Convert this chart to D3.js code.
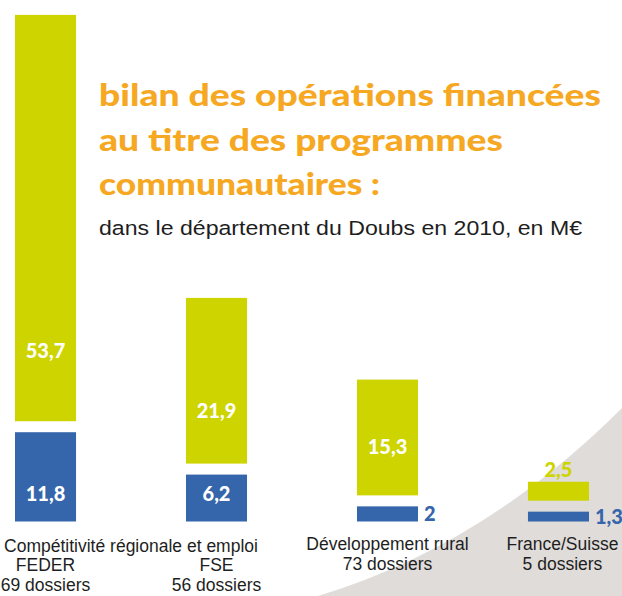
<!DOCTYPE html>
<html>
<head>
<meta charset="utf-8">
<script src="https://cdn.jsdelivr.net/npm/d3@7"></script>
<style>
  body { margin: 0; background: #fff; }
  svg { display: block; }
</style>
</head>
<body>
<script>
// values (M€)
var categories = ["FEDER", "FSE", "Développement rural", "France/Suisse"];
var dossiers = [69, 56, 73, 5];
var blueValues = [11.8, 6.2, 2, 1.3];
var greenValues = [53.7, 21.9, 15.3, 2.5];
var groupHeading = "Compétitivité régionale et emploi";   // covers FEDER + FSE

var titleLines = ["bilan des opérations financées", "au titre des programmes", "communautaires :"];
var subtitle = "dans le département du Doubs en 2010, en M€";

var W = 622, H = 596;
var BASE = 521.5;   // bottom of the bars
var GAP = 11;       // white gap between blue and green blocks

var GREEN = "#cdd400", BLUE = "#3565ab", ORANGE = "#f6a823", GREY = "#e0dcda";

var svg = d3.select("body").append("svg")
    .attr("width", W)
    .attr("height", H);

// grey swoosh, bottom right
svg.append("path")
    .attr("d", "M318,596 Q484,546 622,408 L622,596 Z")
    .attr("fill", GREY);

var x = d3.scaleBand()
    .domain(categories)
    .range([15, 589])
    .paddingInner(0.643)
    .paddingOuter(0);

var h = d3.scaleLinear().domain([0, 60]).range([0, 454]);

var rows = categories.map(function (c, i) {
    return { cat: c, blue: blueValues[i], green: greenValues[i], n: dossiers[i] };
});

function fmt(v) { return String(v).replace(".", ","); }

var g = svg.selectAll("g.grp").data(rows).enter().append("g").attr("class", "grp");

g.append("rect")
    .attr("x", function (d) { return x(d.cat); })
    .attr("width", x.bandwidth())
    .attr("y", function (d) { return BASE - h(d.blue); })
    .attr("height", function (d) { return h(d.blue); })
    .attr("fill", BLUE);

g.append("rect")
    .attr("x", function (d) { return x(d.cat); })
    .attr("width", x.bandwidth())
    .attr("y", function (d) { return BASE - h(d.blue) - GAP - h(d.green); })
    .attr("height", function (d) { return h(d.green); })
    .attr("fill", GREEN);

var valFont = "Lato, 'DejaVu Sans', sans-serif";

// blue value labels: inside if tall enough, else to the right
g.append("text")
    .attr("font-family", valFont)
    .attr("font-weight", 900)
    .attr("font-size", 20)
    .attr("dy", "0.36em")
    .each(function (d) {
        var t = d3.select(this), hb = h(d.blue);
        if (hb > 30) {
            t.attr("x", x(d.cat) + x.bandwidth() / 2).attr("y", BASE - 28)
             .attr("text-anchor", "middle").attr("fill", "#fff");
        } else {
            t.attr("x", x(d.cat) + x.bandwidth() + 6).attr("y", BASE - hb / 2)
             .attr("text-anchor", "start").attr("fill", BLUE);
        }
    })
    .text(function (d) { return fmt(d.blue); });

// green value labels: inside near the bottom, or above a short block
g.append("text")
    .attr("font-family", valFont)
    .attr("font-weight", 900)
    .attr("font-size", 20)
    .attr("text-anchor", "middle")
    .attr("dy", "0.36em")
    .attr("x", function (d) { return x(d.cat) + x.bandwidth() / 2; })
    .each(function (d) {
        var t = d3.select(this), hg = h(d.green);
        var bottom = BASE - h(d.blue) - GAP;
        if (hg > 30) {
            t.attr("y", bottom - (40 + 0.075 * hg)).attr("fill", "#fff");
        } else {
            t.attr("y", bottom - hg - 12).attr("fill", GREEN);
        }
    })
    .text(function (d) { return fmt(d.green); });

// category labels under the bars
var labFont = "'Liberation Sans', Arial, sans-serif";
var lab = svg.append("g")
    .attr("font-family", labFont)
    .attr("font-size", 17.5)
    .attr("fill", "#1e1e1e")
    .attr("text-anchor", "middle");

var grouped = categories.slice(0, 2);
lab.append("text")
    .attr("x", (x(grouped[0]) + x(grouped[1]) + x.bandwidth()) / 2)
    .attr("y", 552)
    .text(groupHeading);

rows.forEach(function (d, i) {
    var cx = x(d.cat) + x.bandwidth() / 2 + (i == 3 ? 4 : 0);
    var y0 = i < 2 ? 571 : 550;
    lab.append("text").attr("x", cx).attr("y", y0).text(d.cat);
    lab.append("text").attr("x", cx).attr("y", y0 + 20).text(d.n + " dossiers");
});

// title block
var titleW = [502, 404, 281];
var titleY = [106, 151, 195];
svg.selectAll("text.title").data(titleLines).enter().append("text")
    .attr("class", "title")
    .attr("x", 99)
    .attr("y", function (d, i) { return titleY[i]; })
    .attr("font-family", "Lato, 'DejaVu Sans', sans-serif")
    .attr("font-weight", 900)
    .attr("font-size", 31)
    .attr("fill", ORANGE)
    .attr("textLength", function (d, i) { return titleW[i]; })
    .attr("lengthAdjust", "spacingAndGlyphs")
    .text(function (d) { return d; });

svg.append("text")
    .attr("x", 99)
    .attr("y", 235)
    .attr("font-family", labFont)
    .attr("font-size", 20.5)
    .attr("fill", "#1e1e1e")
    .attr("textLength", 483)
    .attr("lengthAdjust", "spacingAndGlyphs")
    .text(subtitle);
</script>
</body>
</html>
